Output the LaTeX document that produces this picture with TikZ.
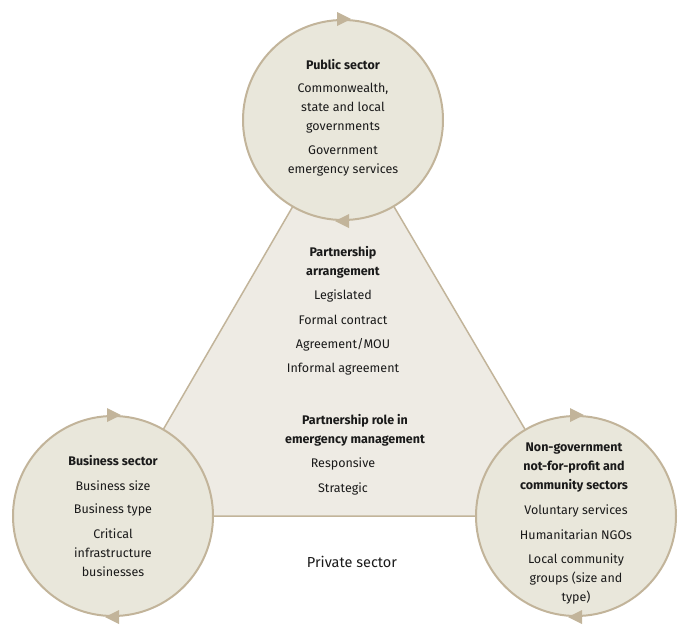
\documentclass[tikz,border=0pt]{standalone}
\usepackage{fontspec}
\setmainfont{Fira Sans}
\definecolor{edge}{HTML}{C2B49A}
\definecolor{cfill}{HTML}{E9E7DB}
\definecolor{tfill}{HTML}{EEEBE4}
\definecolor{txt}{HTML}{1A1A1A}
\begin{document}
\begin{tikzpicture}[x=1pt,y=-1pt,
  circ/.style={circle,draw=edge,fill=cfill,line width=2pt,minimum size=200pt,inner sep=0pt},
  t/.style={align=center,font=\fontsize{12.5}{19}\selectfont,text=txt,inner sep=0pt},
  h/.style={t,font=\fontsize{12.5}{19}\selectfont\bfseries},
  tip/.style={fill=edge,draw=none}]
\useasboundingbox (0,0) rectangle (688,629);
\coordinate (A) at (343,120);
\coordinate (B) at (113,516);
\coordinate (C) at (576,516);
\draw[edge,fill=tfill,line width=1.5pt] (A) -- (B) -- (C) -- cycle;
\node[circ] (pub) at (A) {};
\node[circ] (bus) at (B) {};
\node[circ] (ngo) at (C) {};
% arrowheads
\foreach \n in {pub,bus,ngo}{
  \fill[edge] ([xshift=-6pt]\n.north) ++(0,-7) -- ++(14,7) -- ++(-14,7) -- cycle;
  \fill[edge] ([xshift=6pt]\n.south) ++(0,-7) -- ++(-14,7) -- ++(14,7) -- cycle;
}
% public
\node[h] (pubh) at (343,65) {Public sector};
\node[t] (pub1) at (343,108) {Commonwealth,\\state and local\\governments};
\node[t] (pub2) at (343,161) {Government\\emergency services};
% center
\node[h] (ph) at (343,262) {Partnership\\arrangement};
\node[t] (p1) at (343,296) {Legislated};
\node[t] (p2) at (343,320) {Formal contract};
\node[t] (p3) at (343,345) {Agreement/MOU};
\node[t] (p4) at (343,369) {Informal agreement};
\node[h] (rh) at (355,430) {Partnership role in\\emergency management};
\node[t] (r1) at (343,464) {Responsive};
\node[t] (r2) at (343,489) {Strategic};
\node[t,font=\fontsize{14.5}{19}\selectfont] (priv) at (352,562) {Private sector};
% business
\node[h] (bh) at (113,461) {Business sector};
\node[t] (b1) at (113,486) {Business size};
\node[t] (b2) at (113,510) {Business type};
\node[t] (b3) at (113,553) {Critical\\infrastructure\\businesses};
% ngo
\node[h] (nh) at (574,468) {Non-government\\not-for-profit and\\community sectors};
\node[t] (n1) at (576,511) {Voluntary services};
\node[t] (n2) at (576,535) {Humanitarian NGOs};
\node[t] (n3) at (576,579) {Local community\\groups (size and\\type)};
\end{tikzpicture}
\end{document}
